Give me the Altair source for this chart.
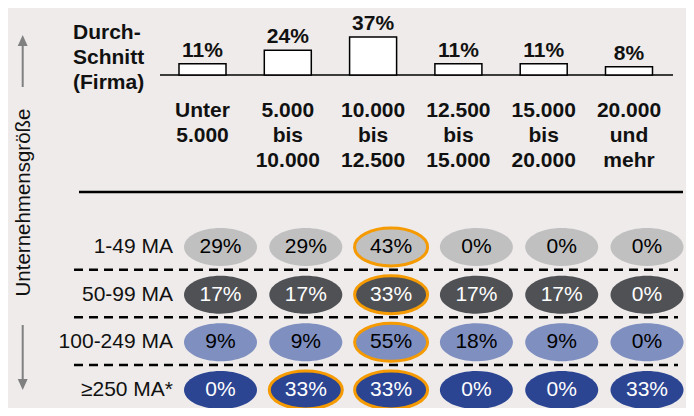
import altair as alt
import pandas as pd

# ---------------- data ----------------
categories = ["Unter 5.000", "5.000 bis 10.000", "10.000 bis 12.500",
              "12.500 bis 15.000", "15.000 bis 20.000", "20.000 und mehr"]
category_labels = ["Unter\n5.000", "5.000\nbis\n10.000", "10.000\nbis\n12.500",
                   "12.500\nbis\n15.000", "15.000\nbis\n20.000", "20.000\nund\nmehr"]
average_pct = [11, 24, 37, 11, 11, 8]

company_sizes = ["1-49 MA", "50-99 MA", "100-249 MA", "≥250 MA*"]
share_1_49 = [29, 29, 43, 0, 0, 0]
share_50_99 = [17, 17, 33, 17, 17, 0]
share_100_249 = [9, 9, 55, 18, 9, 0]
share_250 = [0, 33, 33, 0, 0, 33]
highlight_1_49 = [0, 0, 1, 0, 0, 0]
highlight_50_99 = [0, 0, 1, 0, 0, 0]
highlight_100_249 = [0, 0, 1, 0, 0, 0]
highlight_250 = [0, 1, 1, 0, 0, 0]

row_fill = ["#C0C0C0", "#505155", "#7F8FC0", "#2B4593"]
row_text = ["#000000", "#FFFFFF", "#000000", "#FFFFFF"]
ORANGE = "#F59A00"
BG = "#EEEBEA"
FONT = "Liberation Sans"

# ---------------- tables ----------------
bars = pd.DataFrame({"cat": categories, "avg": average_pct,
                     "label": [f"{v}%" for v in average_pct],
                     "catlabel": category_labels})

shares = [share_1_49, share_50_99, share_100_249, share_250]
highs = [highlight_1_49, highlight_50_99, highlight_100_249, highlight_250]
rows = []
for s, vals, hls in zip(company_sizes, shares, highs):
    for c, v, h in zip(categories, vals, hls):
        rows.append({"size": s, "cat": c, "val": v, "label": f"{v}%", "hl": h})
grid = pd.DataFrame(rows)
sizes_df = pd.DataFrame({"size": company_sizes})
one = pd.DataFrame({"a": [0]})

# ---------------- scales ----------------
x_scale = alt.Scale(type="band", domain=categories, range=[151.85, 663.65],
                    paddingInner=0.449, paddingOuter=0.2245)
X = alt.X("cat:N", scale=x_scale, axis=None, sort=categories)
y_bar = alt.Scale(domain=[0, 37], range=[67, 29], nice=False, zero=True)
y_row = alt.Scale(type="point", domain=company_sizes, range=[239, 382], padding=0)
Yrow = alt.Y("size:N", scale=y_row, axis=None, sort=company_sizes)

ellipse = "M -1 0 A 1 0.52 0 1 1 1 0 A 1 0.52 0 1 1 -1 0 Z"
arrow_up = "M 0 -1 L 0.9 1 L -0.9 1 Z"
arrow_down = "M 0 1 L 0.9 -1 L -0.9 -1 Z"

# ---------------- top part ----------------
bar_layer = alt.Chart(bars).mark_bar(fill="white", stroke="black", strokeWidth=1.5).encode(
    x=X, y=alt.Y("avg:Q", scale=y_bar, axis=None))
bar_text = alt.Chart(bars).mark_text(font=FONT, fontSize=21, fontWeight="bold",
                                     baseline="middle", dy=-13, color="#111111").encode(
    x=X, y=alt.Y("avg:Q", scale=y_bar, axis=None), text="label:N")
cat_text = alt.Chart(bars).mark_text(font=FONT, fontSize=21, fontWeight="bold",
                                     baseline="top", lineBreak="\n", lineHeight=25,
                                     color="#111111").encode(
    x=X, y=alt.value(92), text="catlabel:N")
avg_title = alt.Chart(one).mark_text(font=FONT, fontSize=21, fontWeight="bold",
                                     baseline="top", align="left", lineBreak="\n",
                                     lineHeight=25, color="#111111").encode(
    x=alt.value(65), y=alt.value(14), text=alt.value("Durch-\nSchnitt\n(Firma)"))
baseline_rule = alt.Chart(one).mark_rule(color="black", strokeWidth=1.5).encode(
    x=alt.value(152), x2=alt.value(665), y=alt.value(67))
sep_rule = alt.Chart(one).mark_rule(color="black", strokeWidth=2.5).encode(
    x=alt.value(71), x2=alt.value(675), y=alt.value(184))

# ---------------- grid part ----------------
dash_rules = alt.Chart(sizes_df).transform_filter(
    alt.datum.size != company_sizes[0]).mark_rule(
    color="black", strokeWidth=2.5, strokeDash=[9, 6], yOffset=-25).encode(
    x=alt.value(66), x2=alt.value(670), y=Yrow)
ell = alt.Chart(grid).mark_point(shape=ellipse, size=73 * 73, filled=True, opacity=1,
                                 strokeWidth=0, xOffset=18).encode(
    x=X, y=Yrow,
    color=alt.Color("size:N", scale=alt.Scale(domain=company_sizes, range=row_fill), legend=None))
ell_hl = alt.Chart(grid).transform_filter(alt.datum.hl == 1).mark_point(
    shape=ellipse, size=73 * 73, filled=False, opacity=1, strokeWidth=3,
    color=ORANGE, xOffset=18).encode(x=X, y=Yrow)
ell_text = alt.Chart(grid).mark_text(font=FONT, fontSize=21, baseline="middle",
                                     xOffset=18).encode(
    x=X, y=Yrow, text="label:N",
    color=alt.Color("size:N", scale=alt.Scale(domain=company_sizes, range=row_text), legend=None))
row_labels = alt.Chart(sizes_df).mark_text(font=FONT, fontSize=21, align="right",
                                           baseline="middle", color="#111111").encode(
    x=alt.value(165), y=Yrow, text="size:N")

# ---------------- side axis title with arrows ----------------
side_title = alt.Chart(one).mark_text(font=FONT, fontSize=20.5, angle=270, baseline="middle",
                                      align="center", color="#111111").encode(
    x=alt.value(16), y=alt.value(194.5), text=alt.value("Unternehmensgröße"))
up_line = alt.Chart(one).mark_rule(color="#808080", strokeWidth=2).encode(
    x=alt.value(14.7), y=alt.value(79), y2=alt.value(36))
up_head = alt.Chart(one).mark_point(shape=arrow_up, size=121, filled=True, opacity=1,
                                    color="#808080").encode(x=alt.value(14.7), y=alt.value(32.5))
down_line = alt.Chart(one).mark_rule(color="#808080", strokeWidth=2).encode(
    x=alt.value(14.7), y=alt.value(317), y2=alt.value(373))
down_head = alt.Chart(one).mark_point(shape=arrow_down, size=121, filled=True, opacity=1,
                                      color="#808080").encode(x=alt.value(14.7), y=alt.value(376.5))

chart = alt.layer(
    baseline_rule, bar_layer, bar_text, cat_text, avg_title, sep_rule,
    dash_rules, ell, ell_hl, ell_text, row_labels,
    side_title, up_line, up_head, down_line, down_head,
).resolve_scale(y="independent", color="independent").properties(
    width=678, height=400, background=BG, padding=0,
    autosize=alt.AutoSizeParams(type="none"),
).configure_view(stroke=None)

chart.save("out.html", embed_options={"renderer": "svg", "actions": False})
